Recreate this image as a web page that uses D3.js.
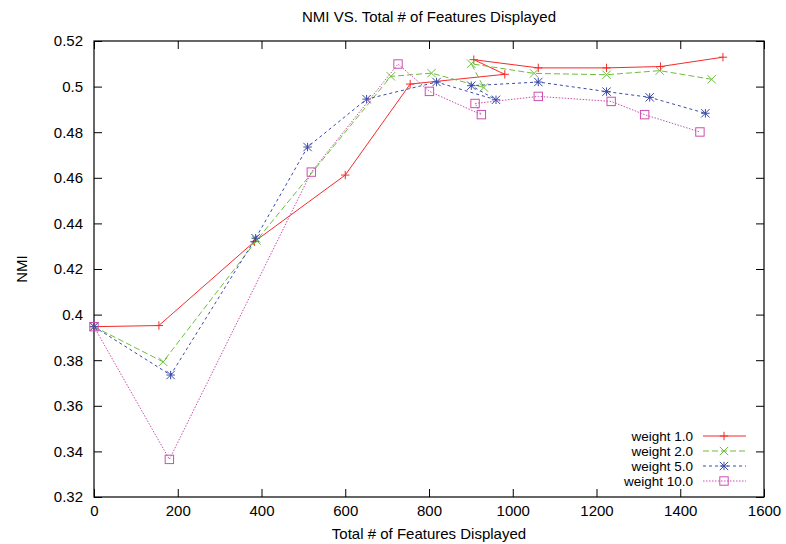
<!DOCTYPE html>
<html>
<head>
<meta charset="utf-8">
<script src="https://cdn.jsdelivr.net/npm/d3@7"></script>
<style>
  body { margin: 0; background: #fff; }
  text { font-family: "Liberation Sans", Arial, sans-serif; }
</style>
</head>
<body>
<div id="chart"></div>
<script>
// data
var xTicks = [0, 200, 400, 600, 800, 1000, 1200, 1400, 1600];
var yTicks = [0.32, 0.34, 0.36, 0.38, 0.4, 0.42, 0.44, 0.46, 0.48, 0.5, 0.52];
var seriesNames = ["weight 1.0", "weight 2.0", "weight 5.0", "weight 10.0"];

var w1x = [0, 155, 383, 600, 755, 981, 907, 1061, 1224, 1353, 1502];
var w1y = [0.3947, 0.3952, 0.432, 0.4612, 0.5011, 0.5054, 0.5118, 0.5082, 0.5082, 0.5088, 0.5129];

var w2x = [0, 165, 388, 709, 806, 931, 901, 1051, 1224, 1351, 1475];
var w2y = [0.3947, 0.3793, 0.4325, 0.5045, 0.5059, 0.4996, 0.5100, 0.5058, 0.5052, 0.5070, 0.5032];

var w5x = [0, 183, 386, 510, 651, 818, 960, 901, 1061, 1224, 1327, 1460];
var w5y = [0.3947, 0.3735, 0.4335, 0.4735, 0.4945, 0.5020, 0.4942, 0.5004, 0.5020, 0.4978, 0.4953, 0.4883];

var w10x = [0, 180, 519, 726, 801, 925, 910, 1061, 1235, 1315, 1447];
var w10y = [0.3947, 0.3365, 0.4625, 0.5099, 0.4979, 0.4877, 0.4926, 0.4957, 0.4935, 0.4877, 0.4801];

var colors = ["#f52a2a", "#6cbf3c", "#3a4aa8", "#cc4fae"];
var dashes = [null, "6,3", "3,3", "1.5,1.5"];
var shapes = ["plus", "cross", "star", "box"];

function zip(xs, ys) {
  return xs.map(function(d, i) { return {x: d, y: ys[i]}; });
}
var series = [zip(w1x, w1y), zip(w2x, w2y), zip(w5x, w5y), zip(w10x, w10y)];

// set the dimensions and margins of the graph
var margin = {top: 41, right: 22, bottom: 47, left: 94},
    width = 786 - margin.left - margin.right,
    height = 544 - margin.top - margin.bottom;

var svg = d3.select("#chart")
  .append("svg")
    .attr("width", 786)
    .attr("height", 544)
  .append("g")
    .attr("transform", "translate(" + margin.left + "," + margin.top + ")");

var x = d3.scaleLinear().domain([0, 1600]).range([0, width]);
var y = d3.scaleLinear().domain([0.32, 0.52]).range([height, 0]);

// axes, ticks pointing inward on all four sides
var fmt = function(d) { return d3.format("~g")(d); };

var xb = svg.append("g")
  .attr("transform", "translate(0," + height + ")")
  .call(d3.axisBottom(x).tickValues(xTicks).tickFormat(fmt).tickSizeInner(-8).tickSizeOuter(0).tickPadding(8));
var xt = svg.append("g")
  .call(d3.axisTop(x).tickValues(xTicks).tickFormat("").tickSizeInner(-8).tickSizeOuter(0));
var yl = svg.append("g")
  .call(d3.axisLeft(y).tickValues(yTicks).tickFormat(fmt).tickSizeInner(-8).tickSizeOuter(0).tickPadding(11));
var yr = svg.append("g")
  .attr("transform", "translate(" + width + ",0)")
  .call(d3.axisRight(y).tickValues(yTicks).tickFormat("").tickSizeInner(-8).tickSizeOuter(0));

[xb, xt, yl, yr].forEach(function(a) {
  a.select(".domain").remove();
  a.selectAll("line").attr("stroke", "#000");
  a.selectAll("text").style("font-size", "15px").attr("fill", "#000");
});

svg.append("rect")
  .attr("width", width)
  .attr("height", height)
  .attr("fill", "none")
  .attr("stroke", "#000")
  .attr("stroke-width", 1.2);

// titles
svg.append("text")
  .attr("x", width / 2)
  .attr("y", -19)
  .style("text-anchor", "middle")
  .style("font-size", "15px")
  .text("NMI VS. Total # of Features Displayed");

svg.append("text")
  .attr("x", width / 2)
  .attr("y", height + 42)
  .style("text-anchor", "middle")
  .style("font-size", "15px")
  .text("Total # of Features Displayed");

svg.append("text")
  .attr("transform", "translate(" + (27 - margin.left) + "," + (height / 2) + ") rotate(-90)")
  .style("text-anchor", "middle")
  .style("font-size", "15px")
  .text("NMI");

// point symbols like gnuplot
function drawPoint(g, shape, cx, cy, color) {
  var s = 4.2;
  if (shape == "plus" || shape == "star") {
    g.append("path").attr("d", "M" + (cx - s) + "," + cy + "H" + (cx + s) + "M" + cx + "," + (cy - s) + "V" + (cy + s))
      .attr("stroke", color).attr("fill", "none");
  }
  if (shape == "cross" || shape == "star") {
    g.append("path").attr("d", "M" + (cx - s) + "," + (cy - s) + "L" + (cx + s) + "," + (cy + s) + "M" + (cx - s) + "," + (cy + s) + "L" + (cx + s) + "," + (cy - s))
      .attr("stroke", color).attr("fill", "none");
  }
  if (shape == "box") {
    g.append("rect").attr("x", cx - s).attr("y", cy - s).attr("width", 2 * s).attr("height", 2 * s)
      .attr("stroke", color).attr("fill", "none");
  }
}

var line = d3.line()
  .x(function(d) { return x(d.x); })
  .y(function(d) { return y(d.y); });

series.forEach(function(data, i) {
  var g = svg.append("g");
  g.append("path")
    .datum(data)
    .attr("d", line)
    .attr("fill", "none")
    .attr("stroke", colors[i])
    .attr("stroke-width", 1)
    .attr("stroke-dasharray", dashes[i]);
  data.forEach(function(d) {
    drawPoint(g, shapes[i], x(d.x), y(d.y), colors[i]);
  });
});

// legend, bottom right
var legend = svg.append("g");
seriesNames.forEach(function(name, i) {
  var ly = 395 + i * 15;
  legend.append("text")
    .attr("x", 599)
    .attr("y", ly + 5)
    .style("text-anchor", "end")
    .style("font-size", "13.5px")
    .text(name);
  legend.append("line")
    .attr("x1", 609).attr("x2", 652)
    .attr("y1", ly).attr("y2", ly)
    .attr("stroke", colors[i])
    .attr("stroke-dasharray", dashes[i]);
  drawPoint(legend, shapes[i], 630, ly, colors[i]);
});
</script>
</body>
</html>
